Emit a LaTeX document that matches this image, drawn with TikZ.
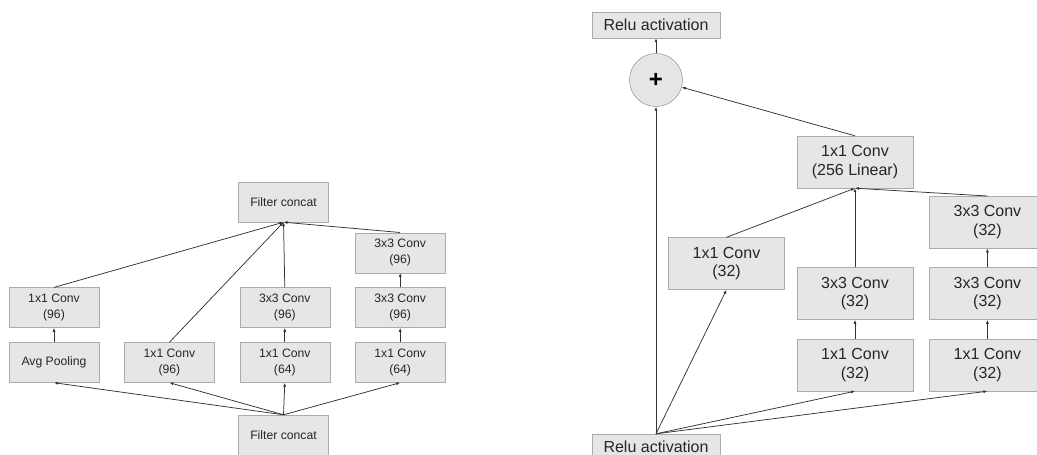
\documentclass[tikz,border=0pt]{standalone}
\usepackage{fontspec}
\setmainfont{Liberation Sans}
\usetikzlibrary{arrows.meta}
\usetikzlibrary{positioning}

\definecolor{boxfill}{HTML}{E6E6E6}
\definecolor{boxline}{HTML}{ABABAB}
\definecolor{ringline}{HTML}{7A7A7A}
\definecolor{wire}{HTML}{333333}

\begin{document}
\begin{tikzpicture}[x=1pt,y=-1pt,
    layer/.style={rectangle,draw=boxline,fill=boxfill,align=center,inner sep=0pt,text=black!85},
    small/.style={layer,minimum width=90pt,minimum height=40pt,font=\fontsize{12.2}{16.5}\selectfont},
    big/.style={layer,minimum width=116pt,minimum height=52pt,font=\fontsize{16}{18.5}\selectfont},
    relu/.style={layer,minimum width=128pt,minimum height=26pt,font=\fontsize{16}{18.5}\selectfont},
    flow/.style={-{Latex[length=4pt,width=3pt]},draw=wire,line width=0.75pt}]
    \useasboundingbox (0,0) rectangle (1037,455);

    % left block
    \node [small] (pool) at (54,362.5) {Avg Pooling};
    \node [small] (c1b) [right=25pt of pool] {1x1 Conv\\(96)};
    \node [small] (c1c) [right=25pt of c1b] {1x1 Conv\\(64)};
    \node [small] (c1d) [right=25pt of c1c] {1x1 Conv\\(64)};
    \node [small] (pconv) [above=14.5pt of pool] {1x1 Conv\\(96)};
    \node [small] (c3c) [above=14.5pt of c1c] {3x3 Conv\\(96)};
    \node [small] (c3d) [above=14.5pt of c1d] {3x3 Conv\\(96)};
    \node [small] (c3e) [above=14.5pt of c3d] {3x3 Conv\\(96)};
    \node [small] (fcin) at (283.5,435) {Filter concat};
    \node [small] (fcout) at (283.5,202) {Filter concat};

    \foreach \t in {pool,c1b,c1c,c1d}
        \draw [flow] (fcin.north) -- (\t.south);
    \draw [flow] (pool) -- (pconv);
    \draw [flow] (c1c) -- (c3c);
    \draw [flow] (c1d) -- (c3d);
    \draw [flow] (c3d) -- (c3e);
    \foreach \s in {pconv,c1b,c3c,c3e}
        \draw [flow] (\s.north) -- (fcout.south);

    % right block
    \node [relu] (rin) at (656,447) {Relu activation};
    \node [circle,draw=ringline,fill=boxfill,minimum size=53pt,inner sep=0pt,
        font=\fontsize{24}{24}\selectfont\bfseries] (add) at (656,80) {+};
    \node [relu] (rout) at (656,25) {Relu activation};
    \node [big] (lin) at (855,162) {1x1 Conv\\(256 Linear)};
    \node [big] (a1) at (726.5,263.5) {1x1 Conv\\(32)};
    \node [big] (m1) at (855,365) {1x1 Conv\\(32)};
    \node [big] (m3) [above=19pt of m1] {3x3 Conv\\(32)};
    \node [big] (r1) [right=16pt of m1] {1x1 Conv\\(32)};
    \node [big] (r2) [above=19pt of r1] {3x3 Conv\\(32)};
    \node [big] (r3) [above=19pt of r2] {3x3 Conv\\(32)};

    \draw [flow] (rin.north) -- (add.south);
    \foreach \t in {a1,m1,r1}
        \draw [flow] (rin.north) -- (\t.south);
    \draw [flow] (m1) -- (m3);
    \draw [flow] (r1) -- (r2);
    \draw [flow] (r2) -- (r3);
    \foreach \s in {a1,m3,r3}
        \draw [flow] (\s.north) -- (lin.south);
    \draw [flow] (lin.north) -- (add);
    \draw [flow] (add) -- (rout);
\end{tikzpicture}
\end{document}
